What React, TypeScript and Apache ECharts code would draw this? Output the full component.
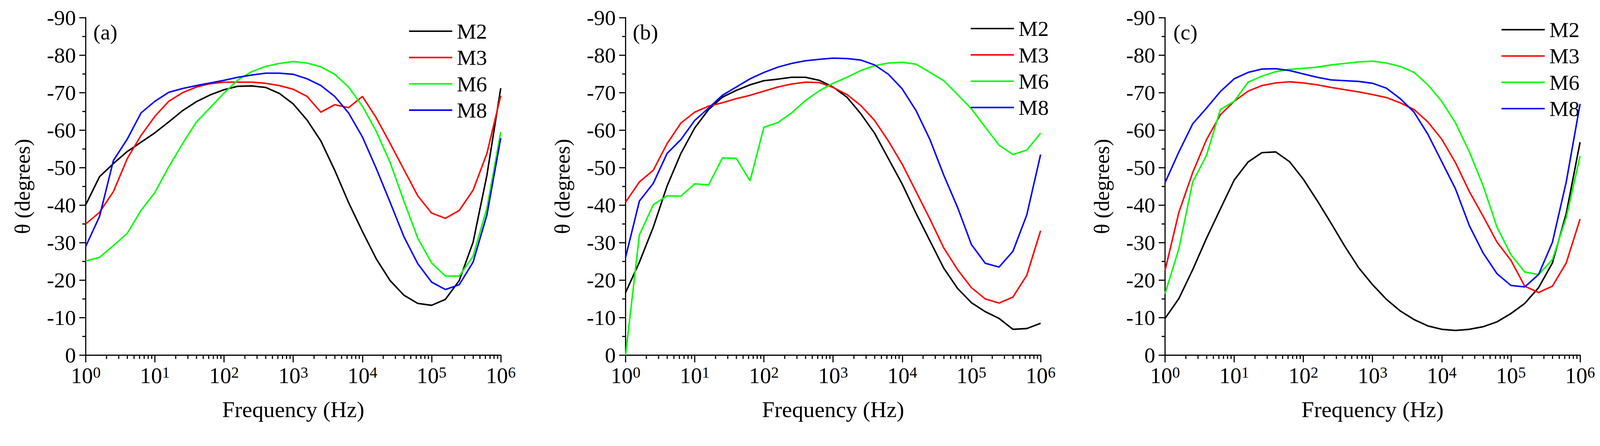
import React, { useEffect, useRef } from "react";
import * as echarts from "echarts";

const FREQ = [
  1, 1.585, 2.512, 3.981, 6.31, 10, 15.85, 25.12, 39.81, 63.1, 100, 158.5, 251.2, 398.1, 631.0,
  1000, 1585, 2512, 3981, 6310, 10000, 15850, 25120, 39810, 63100, 100000, 158500, 251200,
  398100, 631000, 1000000,
];

const MINOR_TICKS = [
  2, 3, 4, 5, 6, 7, 8, 9, 20, 30, 40, 50, 60, 70, 80, 90, 200, 300, 400, 500, 600, 700, 800, 900,
  2000, 3000, 4000, 5000, 6000, 7000, 8000, 9000, 20000, 30000, 40000, 50000, 60000, 70000, 80000,
  90000, 200000, 300000, 400000, 500000, 600000, 700000, 800000, 900000,
];

const SERIES_NAMES = ["M2", "M3", "M6", "M8"];
const SERIES_COLORS = ["#000000", "#ff0000", "#00ff00", "#0000ff"];
const PANEL_LABELS = ["(a)", "(b)", "(c)"];
const Y_TICKS = [-90, -80, -70, -60, -50, -40, -30, -20, -10, 0];

const A_M2 = [-40.1, -47.6, -51.1, -54.3, -56.8, -59.3, -62.2, -65.2, -67.6, -69.4, -70.8, -71.7, -71.8, -71.4, -69.8, -67.0, -62.7, -57.1, -49.3, -40.7, -33.0, -25.7, -19.9, -16.0, -13.8, -13.3, -14.9, -19.9, -30.1, -48.0, -71.2];
const A_M3 = [-35.0, -38.1, -43.6, -52.4, -58.6, -63.7, -67.7, -70.0, -71.5, -72.4, -72.8, -72.8, -72.8, -72.5, -71.9, -70.9, -69.0, -64.8, -66.8, -66.0, -69.0, -63.3, -56.5, -49.5, -42.5, -37.9, -36.5, -38.6, -44.0, -53.8, -69.2];
const A_M6 = [-25.1, -26.1, -29.2, -32.5, -38.6, -43.4, -50.2, -56.4, -62.2, -66.0, -69.9, -73.4, -75.6, -77.0, -77.8, -78.3, -77.9, -76.9, -74.9, -71.5, -66.4, -59.7, -51.4, -41.1, -31.2, -24.6, -21.1, -21.1, -26.4, -39.2, -59.5];
const A_M8 = [-29.0, -37.0, -51.9, -57.6, -64.6, -67.7, -70.1, -71.1, -71.9, -72.6, -73.3, -74.1, -74.7, -75.2, -75.2, -74.9, -73.7, -71.9, -69.0, -64.6, -58.2, -49.8, -40.8, -31.6, -24.4, -19.5, -17.5, -18.8, -24.8, -37.4, -57.9];

const B_M2 = [-16.7, -24.8, -34.1, -45.1, -53.8, -60.6, -65.5, -68.8, -70.6, -72.1, -73.2, -73.6, -74.1, -74.1, -73.3, -71.5, -68.8, -64.4, -59.2, -52.4, -45.6, -37.8, -30.5, -23.2, -17.8, -14.0, -11.6, -9.8, -6.9, -7.1, -8.5];
const B_M3 = [-40.8, -46.2, -49.3, -56.4, -61.9, -64.8, -66.4, -67.3, -68.4, -69.3, -70.4, -71.5, -72.3, -72.8, -72.7, -71.4, -69.5, -66.6, -62.6, -57.1, -50.9, -43.6, -36.3, -28.6, -22.8, -18.0, -15.0, -13.9, -15.5, -21.3, -33.2];
const B_M6 = [0, -32.1, -40.1, -42.5, -42.4, -45.7, -45.4, -52.6, -52.5, -46.5, -60.8, -62.0, -64.6, -67.9, -70.5, -72.5, -74.1, -75.9, -77.2, -77.9, -78.1, -77.6, -75.4, -73.2, -69.5, -65.7, -60.8, -56.0, -53.5, -54.7, -59.2];
const B_M8 = [-26.1, -41.1, -45.8, -53.8, -57.5, -62.6, -65.9, -69.3, -71.5, -73.7, -75.4, -76.8, -77.8, -78.5, -78.9, -79.2, -79.1, -78.7, -77.4, -74.9, -71.0, -65.2, -57.5, -48.0, -39.4, -29.5, -24.5, -23.5, -27.7, -37.4, -53.5];

const C_M2 = [-9.8, -15.1, -22.8, -31.2, -39.0, -46.7, -51.5, -54.0, -54.2, -51.6, -46.9, -41.2, -35.2, -29.0, -23.3, -18.8, -14.9, -11.8, -9.5, -7.8, -6.9, -6.6, -6.9, -7.6, -8.9, -11.1, -13.8, -18.0, -24.6, -37.8, -56.8];
const C_M3 = [-22.6, -38.1, -48.7, -57.5, -64.1, -67.7, -70.4, -71.9, -72.6, -72.9, -72.6, -72.1, -71.4, -70.8, -70.2, -69.5, -68.7, -67.3, -65.5, -62.2, -57.6, -51.3, -43.6, -37.0, -30.1, -25.3, -18.4, -16.7, -18.4, -24.6, -36.3];
const C_M6 = [-16.4, -28.4, -46.2, -53.3, -65.5, -67.7, -72.8, -74.4, -75.6, -76.2, -76.5, -76.8, -77.4, -77.8, -78.2, -78.4, -77.9, -77.0, -75.4, -72.1, -67.7, -61.9, -54.2, -45.1, -34.1, -26.8, -22.2, -21.5, -25.5, -36.7, -53.1];
const C_M8 = [-46.0, -54.2, -61.7, -65.9, -70.3, -73.7, -75.4, -76.3, -76.4, -75.9, -75.0, -74.1, -73.4, -73.2, -73.0, -72.5, -71.2, -68.4, -64.8, -58.9, -51.6, -44.3, -34.5, -27.2, -21.7, -18.6, -18.2, -21.5, -30.1, -46.2, -67.0];

const PANEL_DATA = [
  [A_M2, A_M3, A_M6, A_M8],
  [B_M2, B_M3, B_M6, B_M8],
  [C_M2, C_M3, C_M6, C_M8],
];

const FONT = "'Liberation Serif', 'Times New Roman', serif";
const REF_W = 4256;
const REF_H = 1142;
const GRID_LEFTS = [228, 1664, 3099];
const GRID_TOP = 47;
const GRID_W = 1104;
const GRID_H = 898;
const LEGEND_POS = [
  { left: 1088, top: 53 },
  { left: 2582, top: 46 },
  { left: 3994, top: 49 },
];
const LABEL_POS = [
  { x: 248, y: 85 },
  { x: 1683, y: 85 },
  { x: 3121, y: 85 },
];

function getScale() {
  if (typeof window === "undefined") return 1;
  const w = window.innerWidth || REF_W;
  const h = window.innerHeight || REF_H;
  const s = Math.min(w / REF_W, h / REF_H);
  return s > 0 && s < 1.5 ? s : 1;
}

function buildOption(s: number) {
  const k = (v: number) => v * s;
  const grid: any[] = [];
  const xAxis: any[] = [];
  const yAxis: any[] = [];
  const series: any[] = [];
  const legend: any[] = [];
  const graphic: any[] = [];

  for (let p = 0; p < 3; p++) {
    grid.push({ left: k(GRID_LEFTS[p]), top: k(GRID_TOP), width: k(GRID_W), height: k(GRID_H), containLabel: false });
    xAxis.push({
      type: "log",
      logBase: 10,
      gridIndex: p,
      min: 1,
      max: 1000000,
      name: "Frequency (Hz)",
      nameLocation: "middle",
      nameGap: k(114),
      nameTextStyle: { fontFamily: FONT, fontSize: k(60), color: "#000" },
      axisLine: { onZero: false, lineStyle: { color: "#000", width: k(3) } },
      axisTick: { show: true, length: k(19), lineStyle: { color: "#000", width: k(3) } },
      minorTick: { show: false },
      splitLine: { show: false },
      minorSplitLine: { show: false },
      axisLabel: {
        margin: k(26),
        showMinLabel: true,
        showMaxLabel: true,
        formatter: (v: number) => `{b|10}{s|${Math.round(Math.log10(v))}}`,
        rich: {
          b: { fontFamily: FONT, fontSize: k(59), color: "#000", lineHeight: k(58), verticalAlign: "bottom" },
          s: { fontFamily: FONT, fontSize: k(41), color: "#000", lineHeight: k(40), verticalAlign: "top", padding: [0, 0, k(32), 0] },
        },
      },
    });
    yAxis.push({
      type: "value",
      gridIndex: p,
      min: -90,
      max: 0,
      interval: 10,
      inverse: true,
      name: "θ (degrees)",
      nameLocation: "middle",
      nameGap: k(140),
      nameTextStyle: { fontFamily: FONT, fontSize: k(57), color: "#000" },
      axisLine: { show: true, onZero: false, lineStyle: { color: "#000", width: k(3) } },
      axisTick: { show: true, length: k(17), lineStyle: { color: "#000", width: k(3) } },
      minorTick: { show: true, splitNumber: 2, length: k(9), lineStyle: { color: "#000", width: k(3) } },
      splitLine: { show: false },
      axisLabel: {
        margin: k(26),
        fontFamily: FONT,
        fontSize: k(58),
        color: "#000",
        formatter: (v: number) => (Y_TICKS.indexOf(v) >= 0 ? String(v) : ""),
      },
    });

    PANEL_DATA[p].forEach((vals, i) => {
      series.push({
        type: "line",
        name: SERIES_NAMES[i],
        xAxisIndex: p,
        yAxisIndex: p,
        data: FREQ.map((f, j) => [f, vals[j]]),
        showSymbol: false,
        symbol: "none",
        smooth: false,
        clip: false,
        lineStyle: { color: SERIES_COLORS[i], width: k(4) },
        itemStyle: { color: SERIES_COLORS[i] },
        z: 3,
      });
    });

    series.push({
      type: "custom",
      xAxisIndex: p,
      yAxisIndex: p,
      clip: false,
      silent: true,
      data: MINOR_TICKS.map((v) => [v, 0]),
      encode: { x: 0, y: 1 },
      renderItem: (params: any, api: any) => {
        const pt = api.coord([api.value(0), 0]);
        return {
          type: "line",
          shape: { x1: pt[0], y1: pt[1], x2: pt[0], y2: pt[1] + k(10) },
          style: { stroke: "#000", lineWidth: k(3) },
        };
      },
      z: 4,
    });

    legend.push({
      data: SERIES_NAMES,
      orient: "vertical",
      left: k(LEGEND_POS[p].left),
      top: k(LEGEND_POS[p].top),
      icon: "rect",
      itemWidth: k(115),
      itemHeight: k(4),
      itemGap: k(10),
      selectedMode: false,
      padding: 0,
      textStyle: { fontFamily: FONT, fontSize: k(58), color: "#000", lineHeight: k(60), padding: [0, 0, 0, k(7)] },
    });

    graphic.push({
      type: "text",
      x: k(LABEL_POS[p].x),
      y: k(LABEL_POS[p].y),
      style: {
        text: PANEL_LABELS[p],
        fontFamily: FONT,
        fontSize: k(58),
        fill: "#000",
        align: "left",
        verticalAlign: "middle",
      },
    });
  }

  return {
    animation: false,
    backgroundColor: "#ffffff",
    grid,
    xAxis,
    yAxis,
    series,
    legend,
    graphic,
  };
}

export default function App() {
  const ref = useRef<HTMLDivElement | null>(null);
  const s = getScale();
  useEffect(() => {
    if (!ref.current) return;
    const chart = echarts.init(ref.current, undefined, { renderer: "svg" });
    chart.setOption(buildOption(s) as any);
    return () => chart.dispose();
  }, [s]);
  return (
    <div
      ref={ref}
      style={{ position: "fixed", left: 0, top: 0, width: REF_W * s, height: REF_H * s, background: "#fff" }}
    />
  );
}
